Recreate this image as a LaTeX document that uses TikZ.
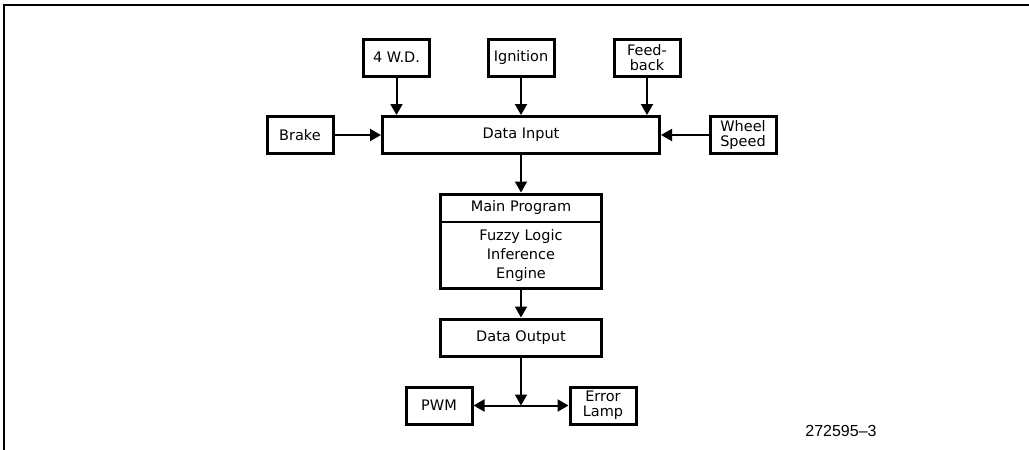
\documentclass[tikz,border=0pt]{standalone}
\usepackage{fontspec}
\setmainfont{DejaVu Sans}
\newfontfamily\labelfont{Liberation Sans}
\usetikzlibrary{arrows.meta}
\begin{document}
\begin{tikzpicture}[x=1pt,y=-1pt,
  txt/.style={font=\fontsize{14.5}{15}\selectfont},
  box/.style={draw, line width=3pt, rectangle, minimum width=66pt, minimum height=37pt, inner sep=0pt, align=center, txt},
  conn/.style={line width=2pt, -{Triangle[width=12pt,length=11pt]}},
  conn2/.style={line width=2pt, {Triangle[width=12pt,length=11pt]}-{Triangle[width=12pt,length=11pt]}}]
\useasboundingbox (0,0) rectangle (1029,450);
% frame
\draw[line width=2pt] (1029,5) -- (4,5) -- (4,450);
% nodes
\node[box] (wd) at (396.5,57.5) {4 W.D.};
\node[box] (ign) at (521,57.5) {Ignition};
\node[box] (fb) at (647,57.5) {Feed-\\back};
\node[box, minimum width=277pt] (din) at (521,135) {Data Input};
\node[box] (brake) at (300,135) {Brake};
\node[box] (wheel) at (743,135) {Wheel\\Speed};
\node[box, minimum width=161pt, minimum height=94pt] (main) at (521,241) {};
\draw[line width=2pt] (main.west |- 0,222) -- (main.east |- 0,222);
\node[txt] (mp) at (521,207.5) {Main Program};
\node[align=center, font=\fontsize{14.5}{19}\selectfont] (fl) at (521,255) {Fuzzy Logic\\Inference\\Engine};
\node[box, minimum width=161pt] (dout) at (521,337.5) {Data Output};
\node[box] (pwm) at (439,405.5) {PWM};
\node[box] (err) at (603,405.5) {Error\\Lamp};
\coordinate (j) at (521,405.5);
\node[font=\labelfont\fontsize{16}{18}\selectfont] (lbl) at (841,431) {272595–3};
% connectors
\draw[conn] (wd.south) -- (wd.south |- din.north);
\draw[conn] (ign.south) -- (ign.south |- din.north);
\draw[conn] (fb.south) -- (fb.south |- din.north);
\draw[conn] (brake.east) -- (din.west);
\draw[conn] (wheel.west) -- (din.east);
\draw[conn] (din.south) -- (main.north);
\draw[conn] (main.south) -- (dout.north);
\draw[conn] (dout.south) -- (j);
\draw[conn2] (pwm.east) -- (err.west);
\end{tikzpicture}
\end{document}
